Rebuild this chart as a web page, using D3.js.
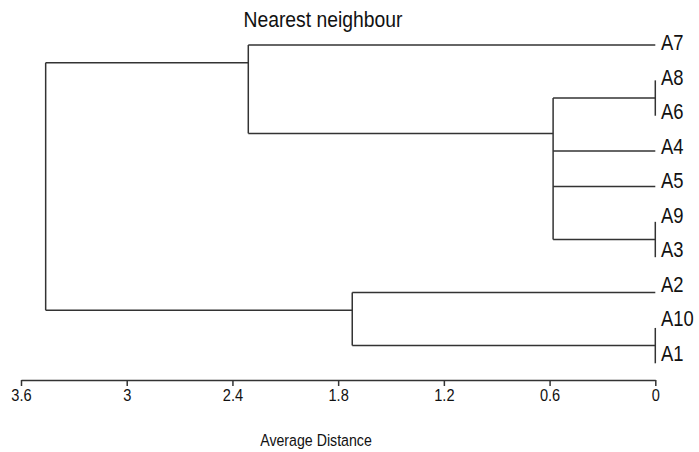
<!DOCTYPE html>
<html>
<head>
<meta charset="utf-8">
<script src="https://cdn.jsdelivr.net/npm/d3@7"></script>
<style>
  body { margin: 0; background: #fff; }
  svg { display: block; }
  .link { fill: none; stroke: #333; stroke-width: 1.5; }
  .axis path, .axis line { stroke: #333; stroke-width: 1.5; }
  text { font-family: "Liberation Sans", Arial, sans-serif; fill: #111; }
</style>
</head>
<body>
<svg id="chart" width="699" height="452"></svg>
<script>
// Leaf order, top to bottom
const leaves = ["A7", "A8", "A6", "A4", "A5", "A9", "A3", "A2", "A10", "A1"];
// Merges: id, members, joining distance
const merges = [
  {id: "m86", children: ["A8", "A6"], height: 0},
  {id: "m93", children: ["A9", "A3"], height: 0},
  {id: "m101", children: ["A10", "A1"], height: 0},
  {id: "mMid", children: ["m86", "A4", "A5", "m93"], height: 0.58},
  {id: "mTop", children: ["A7", "mMid"], height: 2.31},
  {id: "mBot", children: ["A2", "m101"], height: 1.72},
  {id: "root", children: ["mTop", "mBot"], height: 3.46}
];
const tickValues = [3.6, 3, 2.4, 1.8, 1.2, 0.6, 0];
const title = "Nearest neighbour";
const xLabel = "Average Distance";

const squeeze = 0.86; // narrow type face
const svg = d3.select("#chart");

// Build hierarchy from merges
const byId = {};
merges.forEach(m => byId[m.id] = m);
function build(id) {
  let m = byId[id];
  if (!m) return {name: id, height: 0};
  return {name: id, height: m.height, children: m.children.map(build)};
}
const root = d3.hierarchy(build("root"));

// Scales
const x = d3.scaleLinear().domain([3.6, 0]).range([21, 655.3]);
const y = d3.scalePoint().domain(leaves).range([45, 363.3]);
// labels sit on a slightly tighter grid than the leaf lines
const yLabel = d3.scalePoint().domain(leaves).range([42.5, 353]);

// Junction position: halfway between first and second child
function junction(n) {
  if (!n.children) return y(n.data.name);
  let a = n.children[0].leaves(), b = n.children[1].leaves();
  return (y(a[a.length - 1].data.name) + y(b[0].data.name)) / 2;
}
root.each(n => n.jy = junction(n));

// Draw links
const g = svg.append("g");
root.descendants().filter(n => n.children).forEach(n => {
  let ys = n.children.map(c => c.jy);
  g.append("line").attr("class", "link")
      .attr("x1", x(n.data.height)).attr("x2", x(n.data.height))
      .attr("y1", d3.min(ys)).attr("y2", d3.max(ys));
  n.children.forEach(c => {
    if (c.data.height == n.data.height && c.children) return;
    g.append("line").attr("class", "link")
        .attr("x1", x(c.data.height)).attr("x2", x(n.data.height))
        .attr("y1", c.jy).attr("y2", c.jy);
  });
});

// Leaf labels
svg.append("g").selectAll("text")
    .data(leaves).enter()
    .append("text")
        .attr("transform", d => "translate(661," + yLabel(d) + ") scale(" + squeeze + ",1)")
        .style("font-size", "21.4px")
        .attr("dy", "0.36em")
        .text(d => d);

// Axis
const axis = svg.append("g").attr("class", "axis")
    .attr("transform", "translate(0,380)")
    .call(d3.axisBottom(x).tickValues(tickValues).tickFormat(d => String(d))
        .tickSize(6).tickSizeOuter(0));
axis.selectAll("text")
    .attr("transform", "scale(" + squeeze + ",1)")
    .attr("y", 9)
    .style("font-size", "17px")
    .style("font-family", "'Liberation Sans', Arial, sans-serif")
    .attr("fill", "#111");

// Title and axis label
svg.append("text")
    .attr("transform", "translate(323,26.5) scale(" + squeeze + ",1)")
    .attr("text-anchor", "middle")
    .style("font-size", "22.5px")
    .text(title);
svg.append("text")
    .attr("transform", "translate(316,446) scale(" + squeeze + ",1)")
    .attr("text-anchor", "middle")
    .style("font-size", "16.5px")
    .text(xLabel);
</script>
</body>
</html>
